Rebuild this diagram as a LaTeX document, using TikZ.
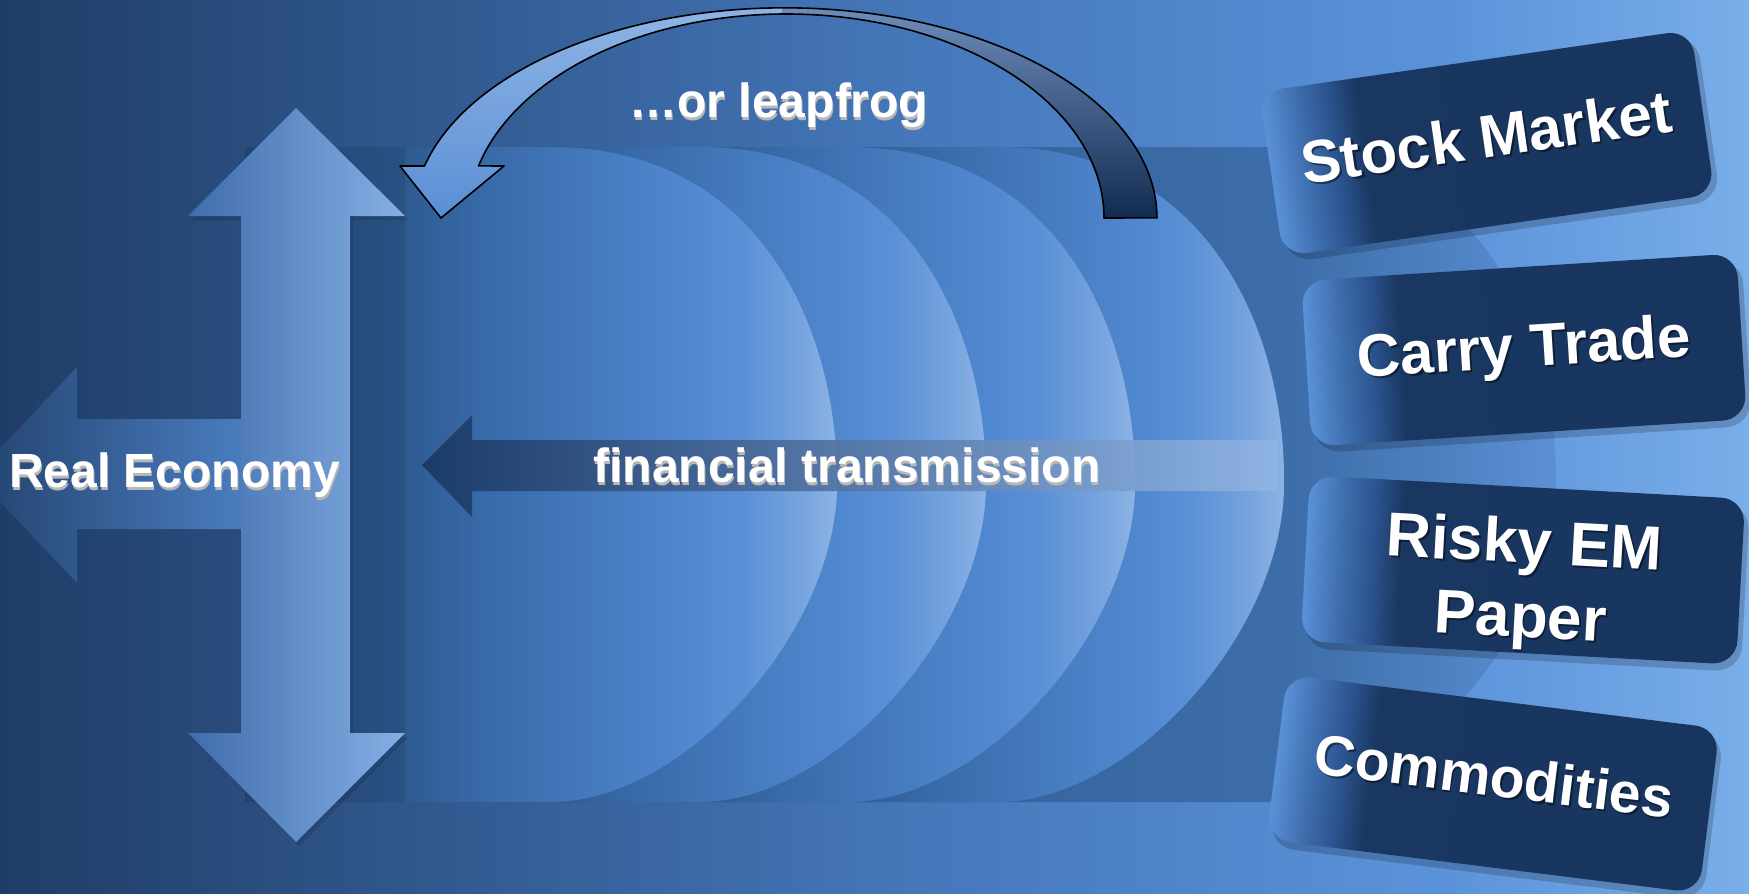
\documentclass[tikz,border=0pt]{standalone}
\usepackage{fontspec}
\setmainfont{Liberation Sans}

% palette
\definecolor{bgA}{HTML}{1F3D67}
\definecolor{bgB}{HTML}{4476B8}
\definecolor{bgC}{HTML}{5B93DA}
\definecolor{bgD}{HTML}{7AAEEA}
\definecolor{bandA}{HTML}{23436F}
\definecolor{bandB}{HTML}{2A5387}
\definecolor{bandC}{HTML}{3D6EAA}
\definecolor{bandD}{HTML}{5C90D4}
\definecolor{dZ}{HTML}{2E5A91}
\definecolor{dA}{HTML}{3768A6}
\definecolor{dB}{HTML}{5088D0}
\definecolor{dC}{HTML}{5A90D6}
\definecolor{dD}{HTML}{75A3DE}
\definecolor{dE}{HTML}{8DB3E4}
\definecolor{boxA}{HTML}{5A91D8}
\definecolor{boxB}{HTML}{3F6FAF}
\definecolor{boxC}{HTML}{2C5590}
\definecolor{boxD}{HTML}{1A3761}
\definecolor{boxE}{HTML}{183560}
\definecolor{upA}{HTML}{3F6DAB}
\definecolor{upB}{HTML}{5289D0}
\definecolor{upC}{HTML}{86AFE4}
\definecolor{ftA}{HTML}{1A3865}
\definecolor{ftB}{HTML}{3D6EAE}
\definecolor{ftC}{HTML}{90B5E5}
\definecolor{lfFrontTop}{HTML}{93B8E6}
\definecolor{lfFrontBot}{HTML}{5A8FD5}
\definecolor{lfBackTop}{HTML}{7796C5}
\definecolor{lfBackBot}{HTML}{122B50}

% horizontal gradients (stops live between 25bp and 75bp)
\pgfdeclarehorizontalshading{bgshade}{100bp}{color(0bp)=(bgA); color(25bp)=(bgA); color(50.5bp)=(bgB); color(66.5bp)=(bgC); color(75bp)=(bgD); color(100bp)=(bgD)}
\pgfdeclarehorizontalshading{bandshade}{100bp}{color(0bp)=(bandA); color(25bp)=(bandA); color(32bp)=(bandB); color(65bp)=(bandC); color(75bp)=(bandD); color(100bp)=(bandD)}
\pgfdeclarehorizontalshading{dshade}{100bp}{color(0bp)=(dZ); color(25bp)=(dZ); color(32.75bp)=(dA); color(58bp)=(dB); color(64bp)=(dC); color(70.75bp)=(dD); color(75bp)=(dE); color(100bp)=(dE)}
\pgfdeclarehorizontalshading{boxshade}{100bp}{color(0bp)=(boxA); color(25bp)=(boxA); color(29bp)=(boxB); color(32.5bp)=(boxC); color(36bp)=(boxD); color(75bp)=(boxE); color(100bp)=(boxE)}

% half-disc outline: #1 = shift of the round end, #2 = left edge
\newcommand\dshape[2]{(#2,147) -- ({551+#1},147) .. controls ({760+#1},147) and ({840+#1},330) .. ({837+#1},490) .. controls ({832+#1},640) and ({680+#1},802) .. ({551+#1},802) -- (#2,802) -- cycle}
% up/down arrow
\newcommand\updown{(296,108) -- (405,216) -- (350,216) -- (350,733) -- (405,733) -- (296,842) -- (188,733) -- (241,733) -- (241,216) -- (188,216) -- cycle}
% curved arrow over the top
\newcommand\leappath{(424.5,166) arc[start angle=194.3, end angle=360, x radius=372, y radius=210] -- (1104,218) arc[start angle=0, end angle=-165.2, x radius=318, y radius=204] -- (504,166) -- (441,218) -- (400,166) -- cycle}

\tikzset{
  lbl/.style={font=\bfseries\fontsize{48}{56}\selectfont, text=white, inner sep=0pt},
  lblshade/.style={lbl, text=black!28},
  boxtxt/.style={font=\bfseries\fontsize{60}{74}\selectfont, text=white, inner sep=0pt, align=center},
  boxshade/.style={boxtxt, text=black, text opacity=0.45},
  assetbox/.style={shading=boxshade, rounded corners=24pt},
  boxdrop/.style={fill=black, opacity=0.18, rounded corners=26pt}
}

\begin{document}
\begin{tikzpicture}[x=1pt, y=-1pt]
  \useasboundingbox (0,0) rectangle (1749,894);
  % backdrop
  \shade[shading=bgshade] (0,0) rectangle (1749,894);
  % dark band with a rounded end
  \shade[shading=bandshade] \dshape{719}{245};
  % half-discs, back to front
  \foreach \k in {3,2,1,0}{
    \begin{scope}
      \clip \dshape{149*\k}{405};
      \fill[dZ] (405,147) rectangle ({405+149*\k},802);
      \shade[shading=dshade] ({405+149*\k},147) rectangle ({837+149*\k},802);
    \end{scope}
  }
  % financial transmission arrow
  \shade[left color=ftA, middle color=ftB, right color=ftC, opacity=0.92]
    (422,465) -- (472,415) -- (472,440) -- (1277,440) -- (1277,491) -- (472,491) -- (472,517) -- cycle;
  % real economy arrows
  \shade[left color=bandA, right color=upB]
    (-25,475) -- (77,367) -- (77,419) -- (300,419) -- (300,529) -- (77,529) -- (77,583) -- cycle;
  \fill[black, opacity=0.12, shift={(3,4)}] \updown;
  \shade[left color=upA, middle color=upB, right color=upC] \updown;
  % leapfrog arrow: light front face, dark back face
  \begin{scope}
    \clip (0,0) rectangle (782,240);
    \shade[top color=lfFrontTop, bottom color=lfFrontBot] \leappath;
  \end{scope}
  \begin{scope}
    \clip (782,0) rectangle (1200,240);
    \shade[top color=lfBackTop, bottom color=lfBackBot] \leappath;
  \end{scope}
  \draw[line width=1.6pt, line join=round] \leappath;

  % labels
  \node[lblshade, anchor=base] (leap-s) at (780,120) {…or leapfrog};
  \node[lbl, anchor=base] (leap) at (779,117) {…or leapfrog};
  \node[lblshade, anchor=base] (fin-s) at (848,485) {financial transmission};
  \node[lbl, anchor=base] (fin) at (847,482) {financial transmission};
  \node[lblshade, anchor=base] (real-s) at (175.5,490) {Real Economy};
  \node[lbl, anchor=base] (real) at (174.5,487) {Real Economy};

  % asset boxes
  \begin{scope}[transform canvas={shift={(1487,143)}, rotate=8.2}]
    \fill[boxdrop] (-215,-78) rectangle (223,90);
    \shade[assetbox] (-218,-83) rectangle (218,83);
    \node[boxshade, anchor=base] (stock-s) at (2,17) {Stock Market};
    \node[boxtxt, anchor=base] (stock) at (0,15) {Stock Market};
  \end{scope}
  \begin{scope}[transform canvas={shift={(1524,350)}, rotate=3.6}]
    \fill[boxdrop] (-215,-78) rectangle (223,90);
    \shade[assetbox] (-218,-83) rectangle (218,83);
    \node[boxshade, anchor=base] (carry-s) at (2,19) {Carry Trade};
    \node[boxtxt, anchor=base] (carry) at (0,17) {Carry Trade};
  \end{scope}
  \begin{scope}[transform canvas={shift={(1523,570)}, rotate=-3.1}]
    \fill[boxdrop] (-215,-78) rectangle (223,90);
    \shade[assetbox] (-218,-83) rectangle (218,83);
    \node[boxshade, font=\bfseries\fontsize{62}{74}\selectfont] (risky-s) at (2,16) {Risky EM\\Paper};
    \node[boxtxt, font=\bfseries\fontsize{62}{74}\selectfont] (risky) at (0,14) {Risky EM\\Paper};
  \end{scope}
  \begin{scope}[transform canvas={shift={(1493,784)}, rotate=-7.1}]
    \fill[boxdrop] (-215,-78) rectangle (223,90);
    \shade[assetbox] (-218,-83) rectangle (218,83);
    \node[boxshade, anchor=base, font=\bfseries\fontsize{57}{70}\selectfont] (comm-s) at (2,14) {Commodities};
    \node[boxtxt, anchor=base, font=\bfseries\fontsize{57}{70}\selectfont] (comm) at (0,12) {Commodities};
  \end{scope}
\end{tikzpicture}
\end{document}
